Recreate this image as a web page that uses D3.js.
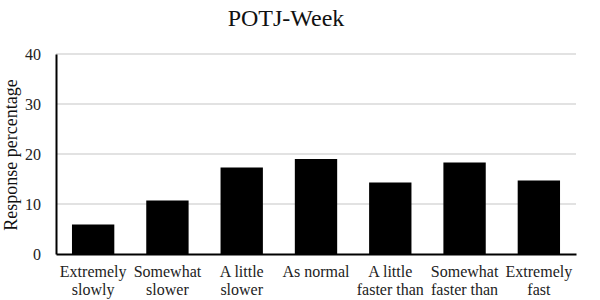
<!DOCTYPE html>
<html>
<head>
<meta charset="utf-8">
<script src="https://cdn.jsdelivr.net/npm/d3@7"></script>
<style>
  body { margin: 0; background: #fff; }
</style>
</head>
<body>
<script>
var categories = ["Extremely slowly", "Somewhat slower", "A little slower", "As normal",
                  "A little faster than", "Somewhat faster than", "Extremely fast"];
// label lines as they appear under each bar
var labelLines = [["Extremely", "slowly"], ["Somewhat", "slower"], ["A little", "slower"], ["As normal"],
                  ["A little", "faster than"], ["Somewhat", "faster than"], ["Extremely", "fast"]];
var values = [5.9, 10.7, 17.3, 19.0, 14.3, 18.3, 14.7];
var yTicks = [0, 10, 20, 30, 40];

var serif = "'Liberation Serif'";
var width = 600, height = 300;
var margin = {left: 56, right: 24, top: 54, bottom: 46};
var w = width - margin.left - margin.right;
var h = height - margin.top - margin.bottom;

var svg = d3.select("body").append("svg").attr("width", width).attr("height", height);

svg.append("text")
    .attr("x", 286).attr("y", 26)
    .attr("text-anchor", "middle")
    .style("font-family", serif)
    .style("font-size", "24px")
    .style("fill", "#111")
    .text("POTJ-Week");

var x = d3.scaleBand().domain(categories).range([0, w]).paddingInner(0.43).paddingOuter(0.215);
var y = d3.scaleLinear().domain([0, 40]).range([h, 0]);

var g = svg.append("g").attr("transform", "translate(" + margin.left + "," + margin.top + ")");

// gridlines
g.selectAll(".grid").data(yTicks.slice(1)).enter().append("line")
    .attr("x1", 0).attr("x2", w)
    .attr("y1", function(d){ return y(d); }).attr("y2", function(d){ return y(d); })
    .attr("stroke", "#d9d9d9").attr("stroke-width", 1.5);

// bars
g.selectAll(".bar").data(values).enter().append("rect")
    .attr("x", function(d, i){ return x(categories[i]); })
    .attr("y", function(d){ return y(d); })
    .attr("width", x.bandwidth())
    .attr("height", function(d){ return h - y(d); })
    .attr("fill", "#000");

// y axis
var yAxis = d3.axisLeft(y).tickValues(yTicks).tickSize(0).tickPadding(15);
var ya = g.append("g").call(yAxis);
ya.attr("font-family", serif).attr("font-size", 16);
ya.select(".domain").attr("stroke", "#000").attr("stroke-width", 2);
ya.selectAll("text")
    .style("font-family", serif)
    .style("font-size", "16px")
    .style("fill", "#222");

// x axis
var xa = g.append("g").attr("transform", "translate(0," + h + ")")
    .call(d3.axisBottom(x).tickSize(0).tickFormat(""));
xa.select(".domain").attr("stroke", "#000").attr("stroke-width", 2);

g.selectAll(".xlab").data(labelLines).enter().append("text")
    .attr("text-anchor", "middle")
    .attr("transform", function(d, i){ return "translate(" + (x(categories[i]) + x.bandwidth() / 2) + "," + (h + 23) + ")"; })
    .style("font-family", serif)
    .style("font-size", "16px")
    .style("fill", "#222")
    .each(function(d){
      var t = d3.select(this);
      d.forEach(function(line, k){
        t.append("tspan").attr("x", 0).attr("dy", k === 0 ? 0 : 18).text(line);
      });
    });

// y axis title
svg.append("text")
    .attr("transform", "translate(17," + (margin.top + h / 2 + 1) + ") rotate(-90)")
    .attr("text-anchor", "middle")
    .style("font-family", serif)
    .style("font-size", "18px")
    .style("fill", "#111")
    .text("Response percentage");
</script>
</body>
</html>
